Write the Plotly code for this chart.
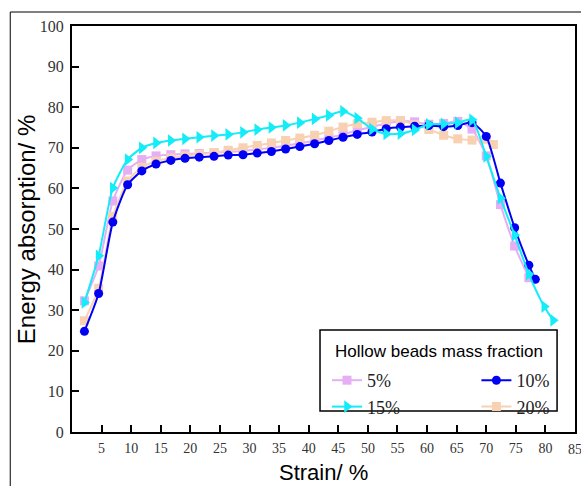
import plotly.graph_objects as go

# ---- data ----
strain_common = [2.1, 4.5, 6.9, 9.4, 11.8, 14.2, 16.7, 19.1, 21.5, 24.0, 26.4, 28.9,
                 31.3, 33.7, 36.1, 38.5, 41.0, 43.4, 45.8, 48.2, 50.7, 53.1, 55.5, 57.9,
                 60.3, 62.8, 65.2, 67.6, 70.0, 72.4, 74.8, 77.2]

x_5 = strain_common
y_5 = [32.3, 40.9, 56.9, 64.5, 67.1, 68.0, 68.3, 68.5, 68.6, 68.8, 69.0, 69.2,
       69.6, 70.0, 70.5, 71.1, 71.8, 72.5, 73.3, 74.3, 75.2, 76.0, 76.6, 76.4,
       75.8, 76.0, 76.5, 74.6, 68.0, 56.0, 45.8, 38.0]

x_10 = strain_common + [78.3]
y_10 = [24.8, 34.1, 51.7, 60.9, 64.3, 66.0, 66.9, 67.4, 67.7, 67.9, 68.2, 68.3,
        68.7, 69.1, 69.7, 70.3, 71.0, 71.8, 72.6, 73.3, 73.9, 74.7, 75.1, 75.3,
        75.5, 75.2, 75.5, 76.2, 72.8, 61.3, 50.3, 41.1, 37.6]

x_15 = strain_common + [79.8, 81.3]
y_15 = [31.9, 43.4, 60.1, 67.1, 70.0, 71.2, 71.8, 72.2, 72.6, 73.0, 73.3, 73.8,
        74.5, 75.0, 75.5, 76.2, 77.1, 78.0, 79.0, 77.3, 74.6, 73.4, 73.5, 74.4,
        75.8, 75.9, 76.2, 76.9, 67.9, 57.6, 48.5, 38.9, 30.9, 27.5]

x_20 = strain_common[:29] + [71.2]
y_20 = [27.4, 35.4, 53.1, 61.8, 65.2, 66.7, 67.5, 68.0, 68.4, 68.8, 69.4, 70.0,
        70.6, 71.2, 71.8, 72.4, 73.1, 74.1, 75.1, 75.9, 76.3, 76.7, 76.7, 75.7,
        74.5, 73.1, 72.2, 71.9, 72.1, 70.8]

x_ticks = [5, 10, 15, 20, 25, 30, 35, 40, 45, 50, 55, 60, 65, 70, 75, 80, 85]
y_ticks = [0, 10, 20, 30, 40, 50, 60, 70, 80, 90, 100]

# ---- figure ----
c5, c10, c15, c20 = "#E6AEF4", "#0000F5", "#14ECF8", "#F8D0B2"

fig = go.Figure()
fig.add_trace(go.Scatter(x=x_5, y=y_5, name="5%", mode="lines+markers",
                         line=dict(color=c5, width=2, shape="spline", smoothing=0.6),
                         marker=dict(symbol="square", size=9, color=c5),
                         legend="legend", legendrank=1))
fig.add_trace(go.Scatter(x=x_20, y=y_20, name="20%", mode="lines+markers",
                         line=dict(color=c20, width=2, shape="spline", smoothing=0.6),
                         marker=dict(symbol="square", size=9, color=c20),
                         legend="legend2", legendrank=2))
fig.add_trace(go.Scatter(x=x_10, y=y_10, name="10%", mode="lines+markers",
                         line=dict(color=c10, width=2, shape="spline", smoothing=0.6),
                         marker=dict(symbol="circle", size=9, color=c10),
                         legend="legend2", legendrank=1))
fig.add_trace(go.Scatter(x=x_15, y=y_15, name="15%", mode="lines+markers",
                         line=dict(color=c15, width=2, shape="spline", smoothing=0.6),
                         marker=dict(symbol="triangle-right", size=11, color=c15),
                         legend="legend", legendrank=2))

W, H = 581, 486
ml, mr, mt, mb = 72, 4, 26, 54
pw, ph = W - ml - mr, H - mt - mb


def px_x(p):
    return (p - ml) / pw


def px_y(p):
    return (H - mb - p) / ph


serif = "Liberation Serif"
sans = "Liberation Sans"

legend_common = dict(xanchor="left", yanchor="top", bgcolor="rgba(0,0,0,0)",
                     borderwidth=0, tracegroupgap=0,
                     font=dict(family=serif, size=18, color="#222"))

fig.update_layout(
    width=W, height=H,
    margin=dict(l=ml, r=mr, t=mt, b=mb),
    paper_bgcolor="white", plot_bgcolor="white",
    legend=dict(x=px_x(328), y=px_y(362), **legend_common),
    legend2=dict(x=px_x(478), y=px_y(362), **legend_common),
    xaxis=dict(range=[0, 85], tickvals=x_ticks[:-1], ticktext=[str(v) for v in x_ticks[:-1]],
               ticks="inside", ticklen=7, tickwidth=2, tickcolor="black",
               showline=True, linecolor="black", linewidth=2, mirror=True,
               showgrid=False, zeroline=False, ticklabelstandoff=2,
               tickfont=dict(family=serif, size=14, color="#333")),
    yaxis=dict(range=[0, 100], tickvals=y_ticks, ticktext=[str(v) for v in y_ticks],
               ticks="inside", ticklen=7, tickwidth=2, tickcolor="black",
               showline=True, linecolor="black", linewidth=2, mirror=True,
               showgrid=False, zeroline=False, ticklabelstandoff=3,
               tickfont=dict(family=serif, size=16, color="#333")),
    shapes=[
        dict(type="rect", xref="paper", yref="paper",
             x0=px_x(10), x1=px_x(600), y0=px_y(520), y1=px_y(12),
             line=dict(color="black", width=1), fillcolor="rgba(0,0,0,0)", layer="below"),
        dict(type="rect", xref="paper", yref="paper",
             x0=px_x(321), x1=px_x(559), y0=px_y(411), y1=px_y(330),
             line=dict(color="black", width=1.5), fillcolor="rgba(0,0,0,0)", layer="above"),
    ],
    annotations=[
        dict(text="Energy absorption/ %", xref="paper", yref="paper",
             x=px_x(26), y=px_y(230), xanchor="center", yanchor="middle",
             textangle=-90, showarrow=False,
             font=dict(family=sans, size=24, color="black")),
        dict(text="Strain/ %", xref="paper", yref="paper",
             x=px_x(325), y=px_y(472), xanchor="center", yanchor="middle",
             showarrow=False, font=dict(family=sans, size=22, color="black")),
        dict(text="Hollow beads mass fraction", xref="paper", yref="paper",
             x=px_x(440), y=px_y(351), xanchor="center", yanchor="middle",
             showarrow=False, font=dict(family=sans, size=17, color="black")),
        dict(text=str(x_ticks[-1]), xref="x", yref="paper",
             x=x_ticks[-1], y=px_y(449), xanchor="center", yanchor="middle",
             showarrow=False, font=dict(family=serif, size=14, color="#333")),
    ],
)

fig.write_html("out.html")
